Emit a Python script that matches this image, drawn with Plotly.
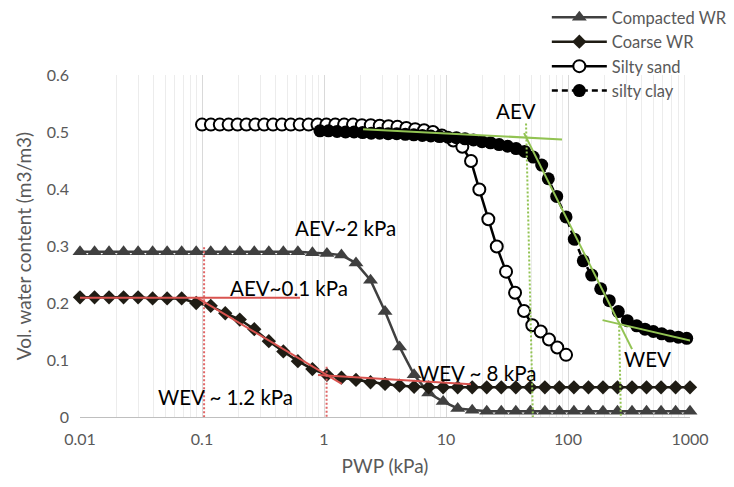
import math
import plotly.graph_objects as go

# ---------------- data ----------------
wr_pwp = [0.01, 0.01316, 0.0173, 0.02276, 0.02993, 0.03937, 0.05179, 0.06813, 0.08963,
          0.1179, 0.1551, 0.204, 0.2683, 0.353, 0.4642, 0.6107, 0.8033, 1.057, 1.39,
          1.829, 2.406, 3.165, 4.163, 5.477, 7.205, 9.478, 12.47, 16.4, 21.58, 28.38,
          37.34, 49.12, 64.61, 85.0, 111.8, 147.1, 193.5, 254.5, 334.8, 440.4, 579.4,
          762.2, 1000]
compacted_wr = [0.29, 0.29, 0.29, 0.29, 0.29, 0.29, 0.29, 0.29, 0.29, 0.29,
                0.29, 0.29, 0.29, 0.29, 0.29, 0.29, 0.288, 0.287, 0.284, 0.270, 0.240,
                0.185, 0.123, 0.074, 0.042, 0.027, 0.015, 0.012, 0.01, 0.01, 0.01, 0.01,
                0.01, 0.01, 0.01, 0.01, 0.01, 0.01, 0.01, 0.01, 0.01, 0.01, 0.01]
coarse_wr = [0.21, 0.21, 0.21, 0.21, 0.21, 0.208, 0.208, 0.208, 0.200, 0.195, 0.182,
             0.171, 0.154, 0.133, 0.115, 0.098, 0.084, 0.074, 0.069, 0.065, 0.061, 0.058,
             0.055, 0.053, 0.052, 0.052, 0.052, 0.052, 0.052, 0.052, 0.052, 0.052, 0.052,
             0.052, 0.052, 0.052, 0.052, 0.052, 0.052, 0.052, 0.052, 0.052, 0.052]

sand_pwp = [0.1, 0.1183, 0.1399, 0.1653, 0.1955, 0.2312, 0.2735, 0.3234, 0.3824, 0.4522,
            0.5348, 0.6324, 0.7479, 0.8844, 1.046, 1.237, 1.462, 1.729, 2.045, 2.418,
            2.86, 3.382, 3.999, 4.729, 5.592, 6.613, 7.82, 9.248, 11.48, 13.61, 16.04,
            18.76, 22.23, 26.06, 31.06, 36.81, 43.6, 50.98, 59.74, 69.87, 81.66, 96.4]
silty_sand = [0.513, 0.513, 0.513, 0.513, 0.513, 0.513, 0.513, 0.513, 0.513, 0.513,
              0.513, 0.513, 0.513, 0.513, 0.513, 0.513, 0.513, 0.513, 0.512, 0.512,
              0.511, 0.510, 0.509, 0.507, 0.505, 0.503, 0.500, 0.494, 0.485, 0.474,
              0.449, 0.399, 0.347, 0.299, 0.255, 0.218, 0.186, 0.161, 0.150, 0.136,
              0.122, 0.109]

clay_pwp = [0.927, 1.089, 1.28, 1.503, 1.765, 2.073, 2.437, 2.861, 3.359, 3.945, 4.638,
            5.447, 6.393, 7.507, 8.829, 10.37, 12.17, 14.31, 16.81, 19.73, 23.16, 27.25,
            31.98, 37.55, 44.09, 51.86, 60.87, 68.95, 80.81, 96.3, 112.6, 133.5, 156.4,
            185.4, 218.0, 258.4, 306.3, 365.8, 427.8, 500.4, 586.1, 685.7, 802.0, 939.8]
silty_clay = [0.502, 0.502, 0.501, 0.500, 0.500, 0.499, 0.498, 0.498, 0.497, 0.497, 0.496,
              0.495, 0.494, 0.493, 0.492, 0.491, 0.490, 0.488, 0.486, 0.483, 0.481, 0.478,
              0.475, 0.471, 0.466, 0.456, 0.442, 0.418, 0.387, 0.351, 0.312, 0.274, 0.249,
              0.225, 0.204, 0.185, 0.169, 0.160, 0.154, 0.150, 0.146, 0.142, 0.140, 0.138]

# construction lines (AEV / WEV)
red_solid = [
    ([0.01, 0.635], [0.209, 0.209]),
    ([0.09, 1.4], [0.21, 0.058]),
    ([0.893, 16.0], [0.0737, 0.0574]),
]
red_dotted = [
    ([0.104, 0.104], [0.298, -0.014]),
    ([1.05, 1.05], [0.088, -0.014]),
]
green_solid = [
    ([2.09, 89.3], [0.505, 0.487]),
    ([43.6, 335], [0.498, 0.119]),
    ([192, 1459], [0.170, 0.126]),
]
green_dotted = [
    ([45.3, 51.7], [0.515, -0.014]),
    ([262, 272], [0.167, -0.014]),
]

labels = [
    ("AEV~2 kPa", 1.49, 0.332),
    ("AEV~0.1 kPa", 0.52, 0.226),
    ("WEV ~ 1.2 kPa", 0.155, 0.035),
    ("WEV ~ 8 kPa", 17.9, 0.077),
    ("AEV", 37.5, 0.537),
    ("WEV", 449, 0.102),
]

x_ticks = [0.01, 0.1, 1, 10, 100, 1000]
x_ticktext = ["0.01", "0.1", "1", "10", "100", "1000"]
y_ticks = [0, 0.1, 0.2, 0.3, 0.4, 0.5, 0.6]
y_ticktext = ["0", "0.1", "0.2", "0.3", "0.4", "0.5", "0.6"]

# ---------------- figure ----------------
fig = go.Figure()

fig.add_trace(go.Scatter(
    x=wr_pwp, y=compacted_wr, name="Compacted WR", mode="lines+markers",
    line=dict(color="#404040", width=2.5),
    marker=dict(symbol="triangle-up", size=13, color="#404040"), cliponaxis=False))
fig.add_trace(go.Scatter(
    x=wr_pwp, y=coarse_wr, name="Coarse WR", mode="lines+markers",
    line=dict(color="#1f1c14", width=2.5),
    marker=dict(symbol="diamond", size=11, color="#1f1c14"), cliponaxis=False))
fig.add_trace(go.Scatter(
    x=sand_pwp, y=silty_sand, name="Silty sand", mode="lines+markers",
    line=dict(color="#000000", width=2.5),
    marker=dict(symbol="circle", size=12, color="#ffffff",
                line=dict(color="#000000", width=2)), cliponaxis=False))
fig.add_trace(go.Scatter(
    x=clay_pwp, y=silty_clay, name="silty clay", mode="lines+markers",
    line=dict(color="#000000", width=2.5, dash="6px,4px"),
    marker=dict(symbol="circle", size=13, color="#000000"), cliponaxis=False))

for xs, ys in red_solid:
    fig.add_trace(go.Scatter(x=xs, y=ys, mode="lines", showlegend=False, hoverinfo="skip",
                             line=dict(color="#d9534f", width=2), cliponaxis=False))
for xs, ys in red_dotted:
    fig.add_trace(go.Scatter(x=xs, y=ys, mode="lines", showlegend=False, hoverinfo="skip",
                             line=dict(color="#e06666", width=2, dash="2px,2px"),
                             cliponaxis=False))
for xs, ys in green_solid:
    fig.add_trace(go.Scatter(x=xs, y=ys, mode="lines", showlegend=False, hoverinfo="skip",
                             line=dict(color="#92c353", width=2), cliponaxis=False))
for xs, ys in green_dotted:
    fig.add_trace(go.Scatter(x=xs, y=ys, mode="lines", showlegend=False, hoverinfo="skip",
                             line=dict(color="#92c353", width=2, dash="2px,2px"),
                             cliponaxis=False))

for text, xv, yv in labels:
    fig.add_annotation(text=text, x=math.log10(xv), y=yv, xref="x", yref="y",
                       showarrow=False, xanchor="center", yanchor="middle",
                       font=dict(family="Lato", size=20.5, color="#000000"))

minor_vals = [m * 10 ** e for e in range(-2, 3) for m in range(2, 10)]

fig.update_layout(
    width=734, height=487,
    margin=dict(l=80, r=44, t=75, b=70, autoexpand=False),
    paper_bgcolor="#ffffff", plot_bgcolor="#ffffff",
    font=dict(family="Lato", color="#595959", size=16),
    legend=dict(xref="container", yref="container", x=0.745, y=1.0,
                xanchor="left", yanchor="top", font=dict(size=16.5, color="#595959"),
                itemwidth=55, tracegroupgap=0, bgcolor="rgba(0,0,0,0)"),
    xaxis=dict(type="log", range=[-2, 3], tickmode="array", tickvals=x_ticks,
               ticktext=x_ticktext, showgrid=True, gridcolor="#d9d9d9", gridwidth=1,
               minor=dict(tickmode="array", tickvals=minor_vals, showgrid=True,
                          gridcolor="#ececec", ticks=""),
               showline=True, linecolor="#bfbfbf", linewidth=1, ticks="",
               ticklabelstandoff=8, zeroline=False,
               title=dict(text="PWP (kPa)", font=dict(size=19, color="#595959"),
                          standoff=12)),
    yaxis=dict(range=[0, 0.6], tickmode="array", tickvals=y_ticks, ticktext=y_ticktext,
               showgrid=False, zeroline=False, showline=False, ticks="",
               ticklabelstandoff=10,
               title=dict(text="Vol. water content (m3/m3)",
                          font=dict(size=19, color="#595959"), standoff=10)),
)

fig.write_html("out.html")
